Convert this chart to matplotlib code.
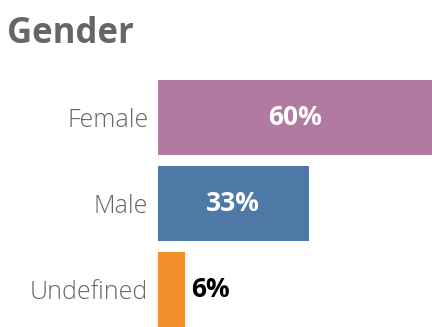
import matplotlib.pyplot as plt

categories = ["Female", "Male", "Undefined"]
shares = [60, 33, 6]
colors = ["#B07AA1", "#4E79A7", "#F28E2B"]

plt.rcParams["font.family"] = ["Open Sans", "DejaVu Sans"]

fig = plt.figure(figsize=(4.32, 3.27), dpi=100)
ax = fig.add_axes([158 / 432, 0, 1 - 158 / 432, 1 - 80 / 327])

ypos = list(range(len(categories)))
ax.barh(ypos, shares, height=0.87, color=colors)
ax.set_xlim(0, 60)
ax.set_ylim(len(categories) - 1 + 0.44, -0.44)

ax.set_yticks(ypos)
ax.set_yticklabels(categories, fontsize=18, fontweight="light", color="#666666")
ax.tick_params(axis="y", length=0, pad=7)
ax.set_xticks([])
for s in ax.spines.values():
    s.set_visible(False)

# big bars get the label inside, the small one just after it
for y, v in zip(ypos, shares):
    if v > 15:
        ax.text(v / 2, y, f"{v}%", ha="center", va="center",
                fontsize=19, fontweight="bold", color="white")
    else:
        ax.text(v + 1.2, y, f"{v}%", ha="left", va="center",
                fontsize=19, fontweight="bold", color="black")

fig.text(7 / 432, 1 - 43 / 327, "Gender", fontsize=25, fontweight="bold",
         color="#666666", va="baseline", ha="left")

fig.savefig("out.png", dpi=100)
